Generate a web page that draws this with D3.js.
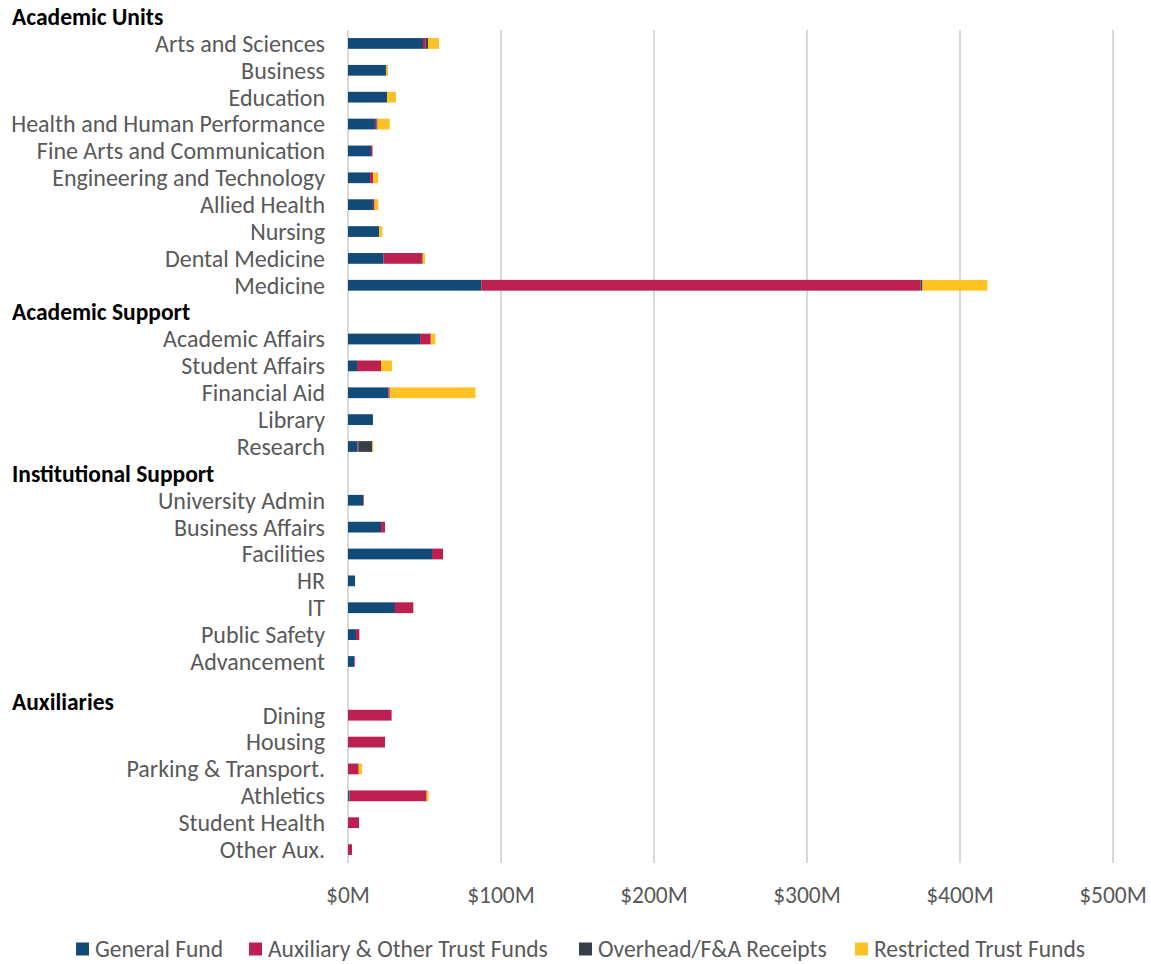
<!DOCTYPE html>
<html>
<head>
<meta charset="utf-8">
<script src="https://cdn.jsdelivr.net/npm/d3@7"></script>
<style>
  body { margin: 0; background: #fff; }
  svg text { font-family: Carlito, Calibri, Lato, sans-serif; }
</style>
</head>
<body>
<div id="chart"></div>
<script>
// category rows, top to bottom ("#" marks a group header row)
var categories = [
  "Arts and Sciences", "Business", "Education", "Health and Human Performance",
  "Fine Arts and Communication", "Engineering and Technology", "Allied Health",
  "Nursing", "Dental Medicine", "Medicine",
  "#Academic Support",
  "Academic Affairs", "Student Affairs", "Financial Aid", "Library", "Research",
  "#Institutional Support",
  "University Admin", "Business Affairs", "Facilities", "HR", "IT",
  "Public Safety", "Advancement",
  "#Auxiliaries",
  "Dining", "Housing", "Parking & Transport.", "Athletics", "Student Health", "Other Aux."
];
var topTitle = "Academic Units";

var seriesNames = ["General Fund", "Auxiliary & Other Trust Funds", "Overhead/F&A Receipts", "Restricted Trust Funds"];

// $M, one value per category row (header rows are 0)
var generalFund = [49, 24.8, 25.5, 17.6, 15, 14.4, 16.3, 20.3, 23.3, 87.1,
  0, 47.1, 5.9, 26.4, 16.3, 6.1,
  0, 10, 21.6, 54.9, 4.6, 30.7, 5.2, 3.9,
  0, 0, 0, 0, 0.9, 0, 0];
var auxTrust = [1.8, 0, 0, 1.1, 1, 2, 1.1, 0, 25, 287.2,
  0, 7, 15.7, 0.9, 0, 0.6,
  0, 0.4, 2.6, 7.2, 0, 12, 2.2, 0.5,
  0, 28.5, 24.2, 7, 50.5, 7.2, 2.6];
var overhead = [1.5, 0.3, 0, 0.6, 0, 0, 0, 0, 0.5, 1.2,
  0, 0, 0, 0, 0, 9.2,
  0, 0, 0, 0, 0, 0, 0, 0,
  0, 0, 0, 0, 0, 0, 0];
var restricted = [7.2, 1.1, 5.9, 8, 0, 3.3, 2.4, 2.2, 1.5, 42.4,
  0, 3, 7.2, 56, 0, 0.6,
  0, 0, 0, 0, 0, 0, 0, 0,
  0, 0, 0, 2.2, 1.3, 0, 0];

var tickValues = [0, 100, 200, 300, 400, 500];
var colors = ["#124A78", "#BD1F51", "#383F46", "#FFC222"];

var W = 1151, H = 964;
var margin = { left: 348, right: 38, top: 30, bottom: 101 };
var fontSize = "23.5px";
var labelSize = "24px";
var headerSize = "23.5px";

var rows = categories.map(function(c, i) {
  return { name: c, vals: [generalFund[i], auxTrust[i], overhead[i], restricted[i]] };
});

var x = d3.scaleLinear().domain([0, 500]).range([margin.left, W - margin.right]);
var y = d3.scaleBand().domain(d3.range(categories.length))
  .range([margin.top, H - margin.bottom]).paddingInner(0.6).paddingOuter(0.3);

var stack = d3.stack().keys([0, 1, 2, 3]).value(function(d, k) { return d.vals[k]; });
var layers = stack(rows);

var svg = d3.select("#chart").append("svg")
  .attr("width", W).attr("height", H);

// gridlines
svg.append("g").selectAll("line")
  .data(tickValues)
  .enter().append("line")
  .attr("x1", function(d) { return x(d); })
  .attr("x2", function(d) { return x(d); })
  .attr("y1", margin.top)
  .attr("y2", H - margin.bottom)
  .attr("stroke", "#D9D9D9")
  .attr("stroke-width", 2);

// tick labels
svg.append("g").selectAll("text")
  .data(tickValues)
  .enter().append("text")
  .attr("x", function(d) { return x(d); })
  .attr("y", 895)
  .attr("dy", "0.35em")
  .attr("text-anchor", "middle")
  .attr("fill", "#595959")
  .style("font-size", fontSize)
  .text(function(d) { return "$" + d + "M"; });

// bars
svg.append("g").selectAll("g")
  .data(layers)
  .enter().append("g")
  .attr("fill", function(d, i) { return colors[i]; })
  .selectAll("rect")
  .data(function(d) { return d.filter(function(p) { return p[1] - p[0] > 0; }); })
  .enter().append("rect")
  .attr("x", function(d) { return x(d[0]); })
  .attr("width", function(d) { return x(d[1]) - x(d[0]); })
  .attr("y", function(d) { return y(rows.indexOf(d.data)); })
  .attr("height", y.bandwidth());

// category labels, header rows bold on the left
svg.append("g").selectAll("text")
  .data(rows)
  .enter().append("text")
  .attr("x", function(d) { return d.name.charAt(0) == "#" ? 12 : 325; })
  .attr("y", function(d, i) {
    var cy = y(i) + y.bandwidth() / 2;
    if (d.name == "#Auxiliaries") cy += 13;
    return cy;
  })
  .attr("dy", "0.35em")
  .attr("text-anchor", function(d) { return d.name.charAt(0) == "#" ? "start" : "end"; })
  .attr("fill", function(d) { return d.name.charAt(0) == "#" ? "#000" : "#595959"; })
  .style("font-weight", function(d) { return d.name.charAt(0) == "#" ? "bold" : "normal"; })
  .style("font-size", function(d) { return d.name.charAt(0) == "#" ? headerSize : labelSize; })
  .text(function(d) { return d.name.replace("#", ""); });

svg.append("text")
  .attr("x", 12).attr("y", 17).attr("dy", "0.35em")
  .style("font-weight", "bold").style("font-size", headerSize)
  .attr("fill", "#000")
  .text(topTitle);

// legend
var legendX = [76, 249, 579, 855];
var legend = svg.append("g").selectAll("g")
  .data(seriesNames)
  .enter().append("g")
  .attr("transform", function(d, i) { return "translate(" + legendX[i] + ",949)"; });
legend.append("rect")
  .attr("x", 0).attr("y", -6.5).attr("width", 13).attr("height", 13)
  .attr("fill", function(d, i) { return colors[i]; });
legend.append("text")
  .attr("x", 19).attr("dy", "0.35em")
  .attr("fill", "#595959")
  .style("font-size", fontSize)
  .text(function(d) { return d; });
</script>
</body>
</html>
